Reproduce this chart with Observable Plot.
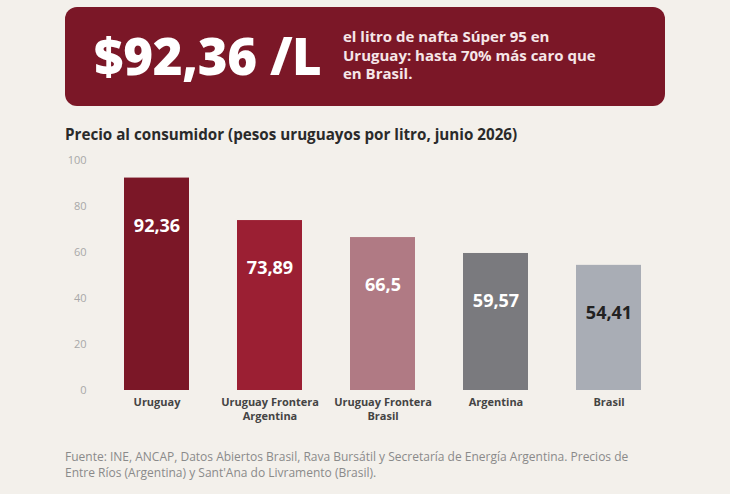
<!DOCTYPE html>
<html><head><meta charset="utf-8">
<script src="https://cdn.jsdelivr.net/npm/d3@7"></script>
<script src="https://cdn.jsdelivr.net/npm/@observablehq/plot@0.6"></script>
<style>
html,body{margin:0;padding:0;background:#f3f0eb;width:730px;height:494px;overflow:hidden;font-family:"Open Sans",sans-serif;}
#banner{position:absolute;left:65px;top:7px;width:600px;height:99px;background:#7b1727;border-radius:12px;}
#big{position:absolute;left:29px;top:13px;font-size:51px;font-weight:800;color:#fff;letter-spacing:-0.3px;white-space:nowrap;}
#sub{position:absolute;left:278px;top:20px;font-size:15px;font-weight:700;color:#f6e6e8;line-height:18.5px;white-space:nowrap;}
#title{position:absolute;left:65px;top:124px;font-size:15.2px;font-weight:700;color:#2a2a2a;white-space:nowrap;}
#chart{position:absolute;left:0;top:150px;}
#foot{position:absolute;left:65px;top:449px;font-size:12px;color:#8a8a8a;line-height:16px;white-space:nowrap;}
</style></head>
<body>
<div id="banner"><div id="big">$92,36 /L</div><div id="sub">el litro de nafta Súper 95 en<br>Uruguay: hasta 70% más caro que<br>en Brasil.</div></div>
<div id="title">Precio al consumidor (pesos uruguayos por litro, junio 2026)</div>
<div id="chart"></div>
<div id="foot">Fuente: INE, ANCAP, Datos Abiertos Brasil, Rava Bursátil y Secretaría de Energía Argentina. Precios de<br>Entre Ríos (Argentina) y Sant'Ana do Livramento (Brasil).</div>
<script>
const categories = ["Uruguay", "Uruguay Frontera Argentina", "Uruguay Frontera Brasil", "Argentina", "Brasil"];
const tickLabels = ["Uruguay", "Uruguay Frontera\nArgentina", "Uruguay Frontera\nBrasil", "Argentina", "Brasil"];
const values = [92.36, 73.89, 66.5, 59.57, 54.41];
const barColors = ["#7b1727", "#9b1f33", "#b07a84", "#7a7a7e", "#a9adb5"];
const labelColors = ["#ffffff", "#ffffff", "#ffffff", "#ffffff", "#222222"];
const yTicks = [0, 20, 40, 60, 80, 100];

const data = categories.map((c, i) => ({cat: c, value: values[i], color: barColors[i], lc: labelColors[i], label: String(values[i]).replace(".", ",")}));
const tickMap = new Map(categories.map((c, i) => [c, tickLabels[i]]));

const plot = Plot.plot({
  width: 730,
  height: 290,
  marginTop: 10,
  marginBottom: 50,
  marginLeft: 100,
  marginRight: 65,
  style: {background: "transparent", fontFamily: "Open Sans, sans-serif"},
  x: {domain: categories, paddingInner: 0.425, paddingOuter: 0.2125, label: null},
  y: {domain: [0, 100], label: null},
  marks: [
    Plot.barY(data, {x: "cat", y: "value", fill: d => d.color}),
    Plot.text(data, {x: "cat", y: "value", text: "label", fill: d => d.lc, dy: 48, fontSize: 18, fontWeight: 700}),
    Plot.axisY({ticks: yTicks, tickSize: 0, tickPadding: 14, fill: "#a8a8a8", fontSize: 11, label: null}),
    Plot.axisX({tickSize: 0, tickPadding: 5, tickFormat: d => tickMap.get(d), fill: "#444", fontSize: 11, fontWeight: 700, label: null, lineHeight: 1.3})
  ]
});
document.getElementById("chart").appendChild(plot);
</script>
</body></html>
